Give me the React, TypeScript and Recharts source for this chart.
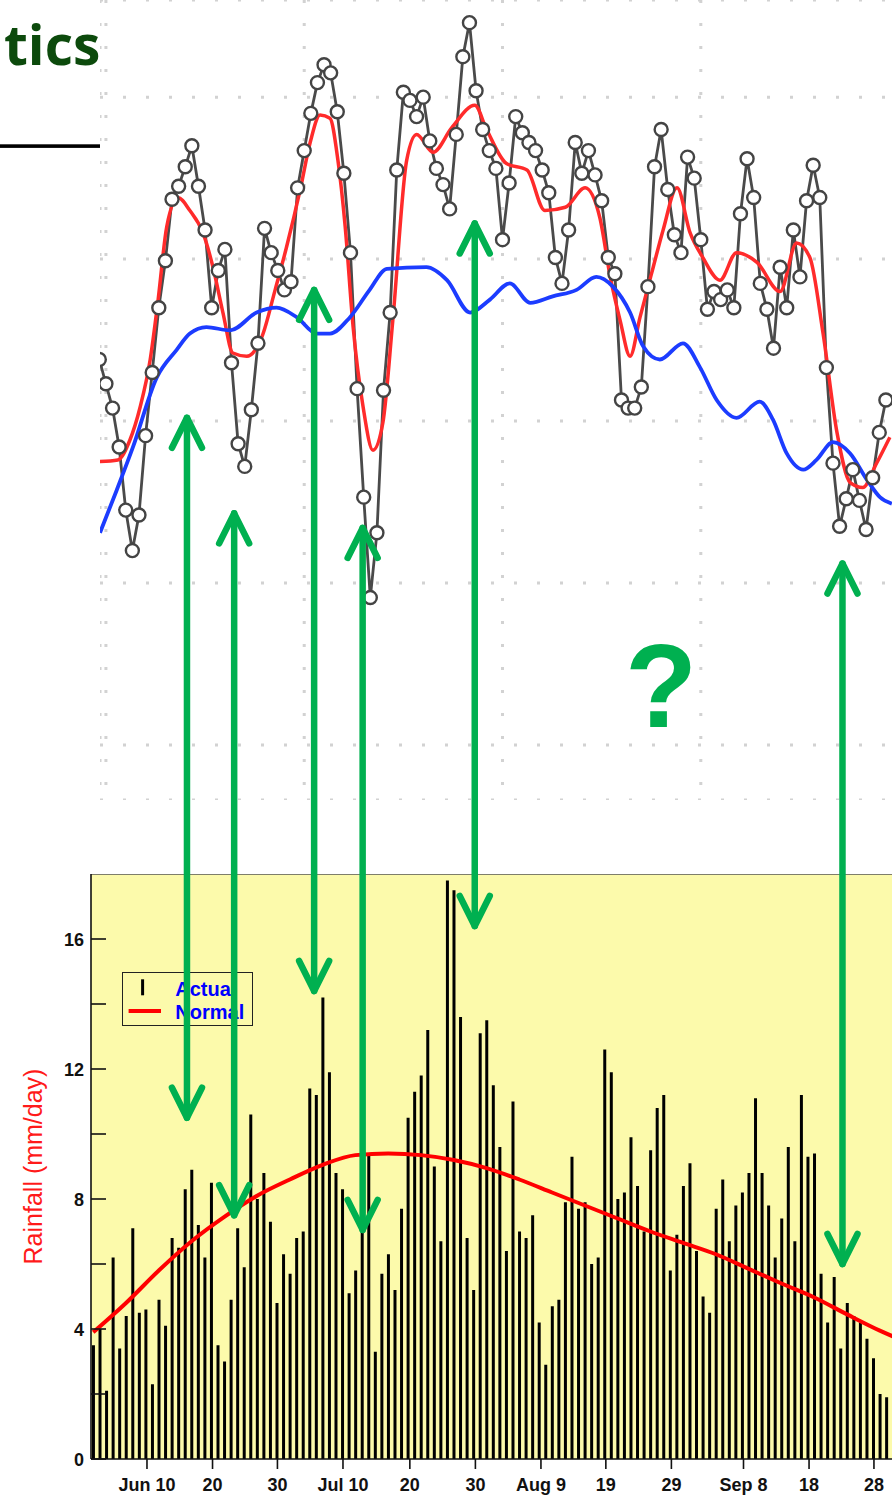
import {
  Bar,
  CartesianGrid,
  ComposedChart,
  Legend,
  Line,
  ReferenceLine,
  XAxis,
  YAxis,
} from "recharts";

const FONT = '"Liberation Sans", Arial, Helvetica, sans-serif';

// Upper panel: daily index (days 1..120), its smoothed curve and the climatology
const indexValues = [
  23.8, 22.3, 20.8, 18.4, 14.5, 12.0, 14.2, 19.1, 23.0, 27.0,
  29.9, 33.7, 34.5, 35.7, 37.0, 34.5, 31.8, 27.0, 29.3, 30.6,
  23.6, 18.6, 17.2, 20.7, 24.8, 31.9, 30.4, 29.3, 28.1, 28.6,
  34.4, 36.7, 39.0, 40.9, 42.0, 41.5, 39.1, 35.3, 30.4, 22.0,
  15.3, 9.1, 13.1, 21.9, 26.7, 35.5, 40.3, 39.8, 38.8, 40.0,
  37.3, 35.6, 34.6, 33.1, 37.7, 42.5, 44.6, 40.4, 38.0, 36.7,
  35.6, 31.2, 34.7, 38.8, 37.8, 37.2, 36.7, 35.5, 34.1, 30.1,
  28.5, 31.8, 37.2, 35.3, 36.7, 35.2, 33.6, 30.1, 29.1, 21.3,
  20.8, 20.8, 22.1, 28.3, 35.7, 38.0, 34.3, 31.5, 30.4, 36.3,
  35.0, 31.2, 26.9, 28.0, 27.5, 28.1, 27.0, 32.8, 36.2, 33.8,
  28.5, 26.9, 24.5, 29.5, 27.0, 31.8, 28.9, 33.6, 35.8, 33.8,
  23.3, 17.4, 13.5, 15.2, 17.0, 15.1, 13.3, 16.5, 19.3, 21.3,
];

const smoothDays = [
  1.1, 3.8, 5.6, 7.2, 8.7, 9.9, 11.2, 12.9, 14.7, 16.7, 18.2, 19.7, 21.2, 23.3,
  25.6, 27.6, 29.3, 31.4, 32.9, 34.4, 35.9, 37.1, 38.2, 39.4, 40.9, 42.4, 43.9,
  45.4, 47.5, 49, 51.5, 54.3, 57.8, 59.6, 62.6, 65.7, 68.4, 71.5, 74.5, 76.7,
  78.3, 79.8, 81.3, 82.8, 84.8, 86.3, 88.4, 90.4, 92.3, 94.9, 97.4, 100.5, 104,
  106.5, 108.5, 110.5, 112.6, 114.6, 116.5, 118.6, 120.6,
];
const smoothValues = [
  17.5, 17.6, 18.8, 20.9, 23.8, 27.5, 32.0, 33.8, 33.0, 31.6, 29.5, 26.7, 24.2, 24.0,
  25.2, 28.1, 30.7, 34.3, 37.2, 38.9, 38.7, 36.1, 32.0, 25.8, 20.9, 18.2, 19.9,
  26.2, 36.1, 37.7, 36.6, 38.1, 39.5, 38.0, 35.9, 35.5, 33.0, 33.2, 34.4, 32.6,
  28.9, 26.2, 24.0, 26.4, 29.5, 31.8, 34.4, 31.6, 30.1, 28.7, 30.4, 29.8, 28.0,
  31.0, 30.1, 25.4, 19.3, 16.2, 15.9, 17.4, 19.0,
];

const climDays = [
  1.1, 3.6, 6.1, 9.7, 12.7, 14.7, 17.2, 20.8, 24.8, 27.8, 30.9, 33.9, 35.9, 38.9,
  41.9, 44.5, 50.5, 53.6, 57.1, 60.1, 63.1, 66.2, 69.6, 73.2, 76.2, 78.7, 81.3,
  83.3, 85.8, 89.3, 91.9, 94.4, 97.4, 100.9, 102.9, 105, 107.5, 109.5, 112,
  114.6, 117.1, 119.1, 120.9,
];
const climValues = [
  13.1, 15.7, 18.4, 22.7, 24.4, 25.4, 25.8, 25.6, 26.7, 27.0, 26.4, 25.4, 25.4, 26.4,
  28.1, 29.4, 29.5, 28.7, 26.7, 27.5, 28.5, 27.3, 27.7, 28.1, 28.9, 28.3, 26.7,
  24.6, 23.8, 24.8, 23.3, 21.3, 20.2, 21.2, 20.1, 18.0, 17.0, 17.6, 18.7,
  18.0, 16.4, 15.3, 14.9,
];

// Lower panel: daily rainfall (mm/day), one bar per day from day 0
const rainActual = [
  3.5, 4.0, 2.1, 6.2, 3.4, 4.4, 7.1, 4.5, 4.6, 2.3,
  4.9, 4.1, 6.8, 6.5, 8.3, 8.9, 7.2, 6.2, 8.5, 3.5,
  3.0, 4.9, 7.1, 5.9, 10.6, 8.0, 8.8, 7.3, 4.8, 6.3,
  5.7, 6.8, 7.0, 11.4, 11.2, 14.2, 11.9, 8.8, 8.3, 5.1,
  5.8, 7.0, 9.4, 3.3, 5.7, 6.3, 5.2, 7.7, 10.5, 11.3,
  11.8, 13.2, 9.0, 6.7, 17.8, 17.5, 13.6, 6.8, 5.2, 13.1,
  13.5, 11.5, 9.6, 6.4, 11.0, 7.0, 6.8, 7.5, 4.2, 2.9,
  4.7, 4.9, 7.9, 9.3, 7.7, 7.9, 6.0, 6.2, 12.6, 11.9,
  8.0, 8.2, 9.9, 8.4, 7.0, 9.5, 10.8, 11.2, 5.8, 6.9,
  8.4, 9.1, 6.4, 5.0, 4.5, 7.7, 8.6, 6.7, 7.8, 8.2,
  8.8, 11.1, 8.8, 7.8, 6.2, 7.4, 9.6, 6.7, 11.2, 9.3,
  9.4, 5.7, 4.2, 5.6, 3.4, 4.8, 4.4, 4.2, 3.7, 3.1,
  2.0, 1.9,
];

const normalDays = [0, 5, 10, 15, 20, 25, 30, 35, 40, 45, 50, 55, 60, 65, 70, 75, 80, 85, 90, 95, 100, 105, 110, 115, 120, 124];
const normalValues = [3.9, 4.8, 5.8, 6.7, 7.45, 8.1, 8.6, 9.05, 9.35, 9.4, 9.35, 9.2, 8.95, 8.6, 8.2, 7.8, 7.4, 7.0, 6.65, 6.3, 5.85, 5.4, 4.97, 4.45, 3.95, 3.6];

const dayTicks = [8.2, 18.2, 28.1, 38.1, 48.3, 58.3, 68.3, 78.2, 88.2, 99.2, 109.2, 119.1];
const dayTickLabels = ["Jun 10", "20", "30", "Jul 10", "20", "30", "Aug 9", "19", "29", "Sep 8", "18", "28"];
const rainTicks = [0, 2, 4, 6, 8, 10, 12, 14, 16];

// Double arrows between panels: day, upper-panel value, rainfall value at each tip
const linkDays = [14.3, 21.5, 33.7, 41.1, 58.2, 114.3];
const linkUpper = [20.2, 14.3, 28.1, 13.4, 32.2, 11.2];
const linkRain = [10.5, 7.5, 14.4, 7.05, 16.4, 6.0];

// panel geometry
const TOP_W = 810;
const TOP_H = 800;
const TOP_X: [number, number] = [1.104, 123.65];
const TOP_Y: [number, number] = [-3.4, 46];

const BOT_TOP = 874;
const BOT_W = 910;
const BOT_H = 621;
const BOT_AXIS_W = 91;
const BOT_XAXIS_H = 36;
const BOT_X: [number, number] = [-0.34, 124.6];
const RAIN_MAX = 18;

const indexTable = indexValues.map((v, k) => ({ day: k + 1, value: v }));
const smoothTable = smoothDays.map((d, k) => ({ day: d, value: smoothValues[k] }));
const climTable = climDays.map((d, k) => ({ day: d, value: climValues[k] }));
const rainTable = rainActual.map((v, k) => ({ day: k, rain: v }));
const normalTable = normalDays.map((d, k) => ({ day: d, normal: normalValues[k] }));

const plotW = BOT_W - BOT_AXIS_W;
const plotH = BOT_H - BOT_XAXIS_H;
const dayToX = (d: number) => BOT_AXIS_W + ((d - BOT_X[0]) / (BOT_X[1] - BOT_X[0])) * plotW;
const upperToY = (v: number) => ((TOP_Y[1] - v) / (TOP_Y[1] - TOP_Y[0])) * TOP_H;
const rainToY = (r: number) => BOT_TOP + ((RAIN_MAX - r) / RAIN_MAX) * plotH;

function RainTick({ x, y, payload }: any) {
  const axisX = x + 7;
  const v = payload.value;
  return (
    <g>
      <line x1={axisX} x2={axisX + 15} y1={y} y2={y} stroke="#111" strokeWidth={1.6} />
      {v % 4 === 0 ? (
        <text x={x} y={y} dy={6.5} textAnchor="end" fill="#111" fontSize={18} fontWeight={700} fontFamily={FONT}>
          {v}
        </text>
      ) : null}
    </g>
  );
}

function RainLabel({ viewBox }: any) {
  const vb = viewBox ?? { x: 0, y: 0, width: BOT_AXIS_W, height: plotH };
  const cx = vb.x + 33;
  const cy = vb.y + vb.height / 2;
  return (
    <text
      x={cx}
      y={cy}
      transform={`rotate(-90 ${cx} ${cy})`}
      textAnchor="middle"
      dominantBaseline="central"
      fill="#ff1a1a"
      fontSize={25}
      fontFamily={FONT}
    >
      Rainfall (mm/day)
    </text>
  );
}

function RainLegend() {
  return (
    <div style={{ width: 131, height: 54, border: "1.5px solid #222", boxSizing: "border-box", position: "relative" }}>
      <svg width={131} height={54} style={{ position: "absolute", left: -1.5, top: -1.5 }}>
        <line x1={21.6} x2={21.6} y1={8.3} y2={24.3} stroke="#000" strokeWidth={3} />
        <line x1={7.6} x2={40} y1={40} y2={40} stroke="#ff0000" strokeWidth={4} />
        <text x={54.3} y={25} fill="#0000ff" fontSize={20} fontWeight={700} fontFamily={FONT}>
          Actual
        </text>
        <text x={54.3} y={48.3} fill="#0000ff" fontSize={20} fontWeight={700} fontFamily={FONT}>
          Normal
        </text>
      </svg>
    </div>
  );
}

function LinkArrow({ x, y1, y2 }: { x: number; y1: number; y2: number }) {
  const head = (tip: number, dir: number) =>
    `M ${x - 15} ${tip + dir * 30} L ${x} ${tip} L ${x + 15} ${tip + dir * 30}`;
  return (
    <g stroke="#00b050" strokeWidth={6.5} strokeLinecap="round" strokeLinejoin="round" fill="none">
      <line x1={x} x2={x} y1={y1} y2={y2} />
      <path d={head(y1, 1)} />
      <path d={head(y2, -1)} />
    </g>
  );
}

export default function App() {
  return (
    <div
      style={{
        position: "absolute",
        left: 0,
        top: 0,
        width: 892,
        height: 1495,
        overflow: "hidden",
        background: "#fff",
        fontFamily: FONT,
      }}
    >
      <div style={{ position: "absolute", left: 100, top: 0 }}>
        <ComposedChart width={TOP_W} height={TOP_H} data={indexTable} margin={{ top: 0, right: 0, bottom: 0, left: 0 }}>
          <CartesianGrid stroke="#d2d2d2" strokeWidth={3} strokeDasharray="3 20" />
          <XAxis type="number" dataKey="day" domain={TOP_X} ticks={[2, 32, 62, 92, 122]} allowDataOverflow hide />
          <YAxis type="number" domain={TOP_Y} ticks={[0, 10, 20, 30, 40]} allowDataOverflow hide />
          <Line
            dataKey="value"
            stroke="#4a4a4a"
            strokeWidth={2.8}
            dot={{ r: 6.5, fill: "#fff", stroke: "#444", strokeWidth: 2.4 }}
            activeDot={false}
            isAnimationActive={false}
          />
          <Line
            data={smoothTable}
            dataKey="value"
            type="monotone"
            stroke="#ff2b2b"
            strokeWidth={3.5}
            dot={false}
            activeDot={false}
            isAnimationActive={false}
          />
          <Line
            data={climTable}
            dataKey="value"
            type="monotone"
            stroke="#1c3cff"
            strokeWidth={3.8}
            dot={false}
            activeDot={false}
            isAnimationActive={false}
          />
        </ComposedChart>
      </div>

      <div style={{ position: "absolute", left: 0, top: BOT_TOP }}>
        <ComposedChart width={BOT_W} height={BOT_H} data={rainTable} margin={{ top: 0, right: 0, bottom: 0, left: 0 }}>
          <CartesianGrid fill="#fcfaab" horizontal={false} vertical={false} />
          <XAxis
            type="number"
            dataKey="day"
            domain={BOT_X}
            allowDataOverflow
            ticks={dayTicks}
            interval={0}
            tickFormatter={(v: number) => dayTickLabels[dayTicks.indexOf(v)] ?? ""}
            height={BOT_XAXIS_H}
            tickSize={10}
            tickMargin={9}
            tick={{ fill: "#111", fontSize: 18, fontWeight: 700, fontFamily: FONT }}
            axisLine={{ stroke: "#111", strokeWidth: 1.6 }}
            tickLine={{ stroke: "#111", strokeWidth: 1.6 }}
          />
          <YAxis
            type="number"
            domain={[0, RAIN_MAX]}
            allowDataOverflow
            ticks={rainTicks}
            interval={0}
            width={BOT_AXIS_W}
            tickSize={0}
            tickMargin={7}
            tick={<RainTick />}
            tickLine={false}
            axisLine={{ stroke: "#111", strokeWidth: 1.6 }}
            label={<RainLabel />}
          />
          <ReferenceLine y={RAIN_MAX} stroke="#555" strokeWidth={1.5} />
          <Bar dataKey="rain" fill="#000" barSize={3} isAnimationActive={false} />
          <Line
            data={normalTable}
            dataKey="normal"
            type="monotone"
            stroke="#ff0000"
            strokeWidth={4}
            dot={false}
            activeDot={false}
            isAnimationActive={false}
          />
          <Legend
            content={<RainLegend />}
            layout="vertical"
            align="center"
            verticalAlign="middle"
            wrapperStyle={{ left: 121.7, top: 971.7 - BOT_TOP, width: 131, height: 54 }}
          />
        </ComposedChart>
      </div>

      <svg width={892} height={1495} style={{ position: "absolute", left: 0, top: 0, pointerEvents: "none" }}>
        <text x={4} y={65} textAnchor="start" fill="#0c4a0c" fontSize={55} fontWeight={700} fontFamily='"Open Sans", "Noto Sans", sans-serif'>
          tics
        </text>
        <rect x={0} y={144.3} width={100} height={3.6} fill="#000" />
        {linkDays.map((d, k) => (
          <LinkArrow key={k} x={dayToX(d)} y1={upperToY(linkUpper[k])} y2={rainToY(linkRain[k])} />
        ))}
        <text x={661} y={727} textAnchor="middle" fill="#00b050" fontSize={118} fontWeight={700} fontFamily={FONT}>
          ?
        </text>
      </svg>
    </div>
  );
}
